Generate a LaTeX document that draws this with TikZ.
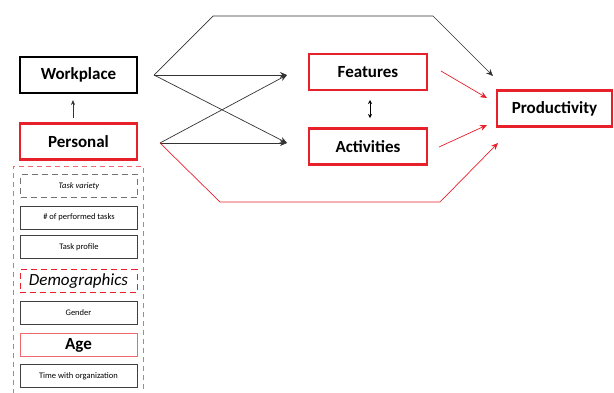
\documentclass[tikz,border=0pt]{standalone}
\usepackage{fontspec}
\setmainfont{Carlito}
\usetikzlibrary{arrows.meta}
\definecolor{myred}{RGB}{232,32,42}
\definecolor{lightred}{RGB}{240,105,110}
\tikzset{
  bigbox/.style={draw=black,line width=2.6pt,minimum width=117pt,minimum height=36pt,inner sep=0pt,font=\fontsize{17}{19}\selectfont\bfseries},
  redbox/.style={bigbox,draw=myred},
  smallbox/.style={draw=black!75,line width=1pt,minimum width=117pt,minimum height=23pt,inner sep=0pt,font=\fontsize{8.5}{10}\selectfont},
  arr/.style={-{Stealth[length=7pt,width=6pt]},line width=0.7pt,black!80},
  redarr/.style={-{Stealth[length=7pt,width=6pt]},line width=0.7pt,myred},
}
\begin{document}
\begin{tikzpicture}[x=1pt,y=-1pt]
\useasboundingbox (0,0) rectangle (614,392);
% left column
\node[bigbox] (work) at (78.5,75) {Workplace};
\node[redbox] (pers) at (78.5,141.5) {Personal};
\draw[arr,line width=0.6pt,-{Stealth[length=5pt,width=4pt]}] (pers.north -| 73,0) ++(0,-4) -- (73,100);
\draw[lightred,line width=0.9pt,dash pattern=on 5pt off 4pt] (13,394) -- (13,166) -- (143,166) -- (143,394);
\node[smallbox,draw=black!55,dash pattern=on 6pt off 4pt,font=\fontsize{8.5}{10}\selectfont\itshape] (var) at (79,186) {Task variety};
\node[smallbox] (num) at (79,217.5) {\# of performed tasks};
\node[smallbox] (prof) at (79,247) {Task profile};
\node[smallbox,draw=myred,dash pattern=on 6pt off 4pt,font=\fontsize{17}{19}\selectfont\itshape] (demo) at (78.5,281) {Demographics};
\node[smallbox] (gend) at (78.5,312.5) {Gender};
\node[smallbox,draw=lightred,font=\fontsize{17}{19}\selectfont\bfseries] (age) at (78.5,345) {Age};
\node[smallbox] (time) at (78.5,376) {Time with organization};
% middle and right
\node[redbox,minimum width=118pt] (feat) at (368,72) {Features};
\node[redbox,minimum width=118pt] (act) at (368,146.5) {Activities};
\node[redbox,minimum width=115pt] (prod) at (554.5,108.5) {Productivity};
\coordinate (wo) at (154,75);
\coordinate (po) at (160,143);
\coordinate (fin) at (287,75);
\coordinate (ain) at (287,143);
\draw[arr] (wo) -- (fin);
\draw[arr] (wo) -- (ain);
\draw[arr] (po) -- (fin);
\draw[arr] (po) -- (ain);
\coordinate (pt) at (493,76);
\draw[arr] (wo) -- (213,16) -- (433,16) -- (pt);
\coordinate (pb) at (498,143);
\draw[redarr] (po) -- (220,202) -- (440,202) -- (pb);
\coordinate (f1) at (441,71);
\coordinate (f2) at (487,98);
\coordinate (a1) at (439,147);
\coordinate (a2) at (487,125);
\draw[redarr] (f1) -- (f2);
\draw[redarr] (a1) -- (a2);
\draw[line width=0.6pt,{Stealth[length=4pt,width=4pt]}-{Stealth[length=4pt,width=4pt]}] (370,100) -- (370,118);
\end{tikzpicture}
\end{document}
